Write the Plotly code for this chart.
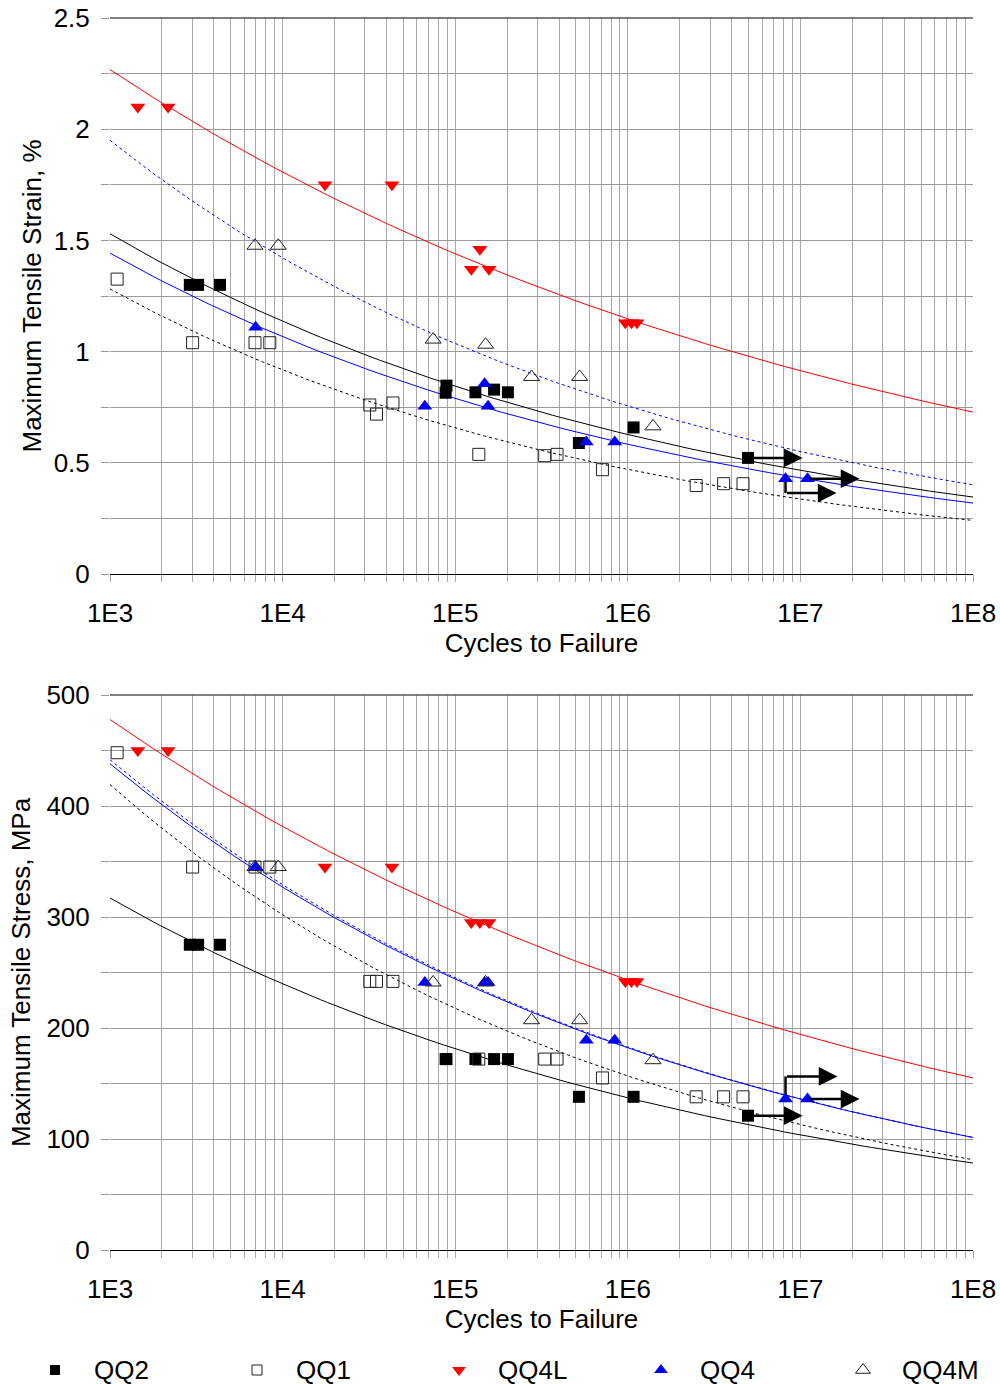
import numpy as np
import plotly.graph_objects as go

# ---------------- data ----------------
# QQ2 (filled black squares)
qq2_n = [2900, 3240, 4340, 89000, 88000, 131000, 168000, 202000, 521000, 1080000, 4970000]
qq2_strain = [1.30, 1.30, 1.30, 0.847, 0.815, 0.817, 0.829, 0.817, 0.589, 0.659, 0.522]
qq2_stress = [275, 275, 275, 172, 172, 172, 172, 172, 138, 138, 121]

# QQ1 (open squares)
qq1_n = [1100, 3010, 6920, 8430, 32000, 35000, 43600, 137000, 330000, 389000, 713000, 2490000, 3590000, 4650000]
qq1_strain = [1.326, 1.04, 1.04, 1.04, 0.76, 0.719, 0.769, 0.538, 0.532, 0.538, 0.469, 0.398, 0.406, 0.406]
qq1_stress = [448, 345, 345, 345, 242, 242, 242, 172, 172, 172, 155, 138, 138, 138]

# QQ4L (red down triangles)
qq4l_n = [1450, 2170, 17600, 43000, 124000, 139000, 157000, 968000, 1050000, 1130000]
qq4l_strain = [2.10, 2.10, 1.75, 1.75, 1.37, 1.46, 1.37, 1.13, 1.13, 1.13]
qq4l_stress = [450, 450, 345, 345, 295, 295, 295, 242, 242, 242]

# QQ4 (blue up triangles)
qq4_n = [6980, 66700, 148000, 155000, 575000, 840000, 8200000, 11000000]
qq4_strain = [1.11, 0.754, 0.856, 0.754, 0.594, 0.594, 0.4285, 0.4285]
qq4_stress = [345, 241, 241, 241, 189, 189, 136, 136]

# QQ4M (open triangles)
qq4m_n = [6920, 9440, 74500, 150000, 277000, 526000, 1400000]
qq4m_strain = [1.476, 1.476, 1.054, 1.031, 0.886, 0.886, 0.664]
qq4m_stress = [345, 345, 241, 241, 207, 207, 171]

# power-law trendlines  y = A * N^B   (order: QQ2, QQ1, QQ4L, QQ4, QQ4M)
fit_names = ["QQ2", "QQ1", "QQ4L", "QQ4", "QQ4M"]
strain_fit_A = [3.732, 3.495, 4.485, 3.569, 5.034]
strain_fit_B = [-0.1291, -0.1452, -0.0987, -0.1311, -0.1373]
stress_fit_A = [733.5, 1121.2, 939.1, 1054.0, 1067.9]
stress_fit_B = [-0.1214, -0.1424, -0.0978, -0.1271, -0.1278]

# run-out arrows: (start N, start y, elbow y, end N)
strain_runouts = [(4970000, 0.522, 0.522, 10300000),
                  (8200000, 0.4285, 0.364, 16200000),
                  (11000000, 0.4285, 0.4285, 22000000)]
stress_runouts = [(4970000, 121, 121, 10300000),
                  (8200000, 136, 156.4, 16400000),
                  (11000000, 136, 136, 22000000)]

# axis ticks
x_tickvals = [m * 10 ** k for k in range(3, 8) for m in range(1, 10)] + [1e8]
x_ticktext = [("1E%d" % round(np.log10(v))) if abs(np.log10(v) - round(np.log10(v))) < 1e-9 else "" for v in x_tickvals]
strain_tickvals = [0, 0.25, 0.5, 0.75, 1, 1.25, 1.5, 1.75, 2, 2.25, 2.5]
strain_ticktext = ["0", "", "0.5", "", "1", "", "1.5", "", "2", "", "2.5"]
stress_tickvals = list(range(0, 501, 50))
stress_ticktext = [str(v) if v % 100 == 0 else "" for v in stress_tickvals]

legend_names = ["QQ2", "QQ1", "QQ4L", "QQ4", "QQ4M"]

# ---------------- styles ----------------
FONT = "Liberation Sans, Arial, sans-serif"
styles = {
    "QQ2": dict(symbol="square", size=12, color="black", line=dict(width=0, color="black")),
    "QQ1": dict(symbol="square-open", size=12, color="#222222", line=dict(width=1, color="#222222")),
    "QQ4L": dict(symbol="triangle-down", size=13, color="#ff0000", line=dict(width=0, color="#ff0000")),
    "QQ4": dict(symbol="triangle-up", size=13, color="#0000ff", line=dict(width=0, color="#0000ff")),
    "QQ4M": dict(symbol="triangle-up-open", size=14, color="#222222", line=dict(width=1, color="#222222")),
}
legend_sizes = {"QQ2": 10, "QQ1": 10, "QQ4L": 12, "QQ4": 12, "QQ4M": 13}
fit_styles = {
    "QQ2": dict(color="black", width=1, dash="solid"),
    "QQ1": dict(color="black", width=1, dash="3px,3px"),
    "QQ4L": dict(color="#ff0000", width=1, dash="solid"),
    "QQ4": dict(color="#0000ff", width=1, dash="solid"),
    "QQ4M": dict(color="#0000ff", width=1, dash="3px,3px"),
}

# layout geometry (pixels); plot area spans the whole page, axes placed by domain
W, H = 1000, 1384
R = 27
PW = W - R
PLOT_L = 110
top_px = (18, 574)
bot_px = (695, 1250)
leg_px = (1350, 1384)
LEG_Y = 1370
LEG_X0, LEG_DX, LEG_TEXT_GAP = 55, 202, 37

def ydom(px):
    return [(H - px[1]) / H, (H - px[0]) / H]

fig = go.Figure()

n_curve = np.logspace(3, 8, 120)

# trendlines
for name, A, B_ in zip(fit_names, strain_fit_A, strain_fit_B):
    fig.add_trace(go.Scatter(x=n_curve, y=A * n_curve ** B_, mode="lines", line=fit_styles[name],
                             showlegend=False, hoverinfo="skip", xaxis="x", yaxis="y"))
for name, A, B_ in zip(fit_names, stress_fit_A, stress_fit_B):
    fig.add_trace(go.Scatter(x=n_curve, y=A * n_curve ** B_, mode="lines", line=fit_styles[name],
                             showlegend=False, hoverinfo="skip", xaxis="x2", yaxis="y2"))

# runout elbow segments
for runs, xa, ya in [(strain_runouts, "x", "y"), (stress_runouts, "x2", "y2")]:
    for n0, y0, y1, n1 in runs:
        if y0 != y1:
            fig.add_trace(go.Scatter(x=[n0, n0], y=[y0, y1], mode="lines",
                                     line=dict(color="black", width=2.5),
                                     showlegend=False, hoverinfo="skip", xaxis=xa, yaxis=ya))

series = [
    ("QQ2", qq2_n, qq2_strain, qq2_stress),
    ("QQ1", qq1_n, qq1_strain, qq1_stress),
    ("QQ4L", qq4l_n, qq4l_strain, qq4l_stress),
    ("QQ4", qq4_n, qq4_strain, qq4_stress),
    ("QQ4M", qq4m_n, qq4m_strain, qq4m_stress),
]
for name, n, s1, s2 in series:
    fig.add_trace(go.Scatter(x=n, y=s1, mode="markers", marker=styles[name], name=name,
                             showlegend=False, xaxis="x", yaxis="y"))
    fig.add_trace(go.Scatter(x=n, y=s2, mode="markers", marker=styles[name], name=name,
                             showlegend=False, xaxis="x2", yaxis="y2"))

# legend strip (keys and labels on a hidden pixel-coordinate axis pair)
annotations = []
for i, name in enumerate(legend_names):
    st = dict(styles[name])
    st["size"] = legend_sizes[name]
    xk = LEG_X0 + i * LEG_DX
    fig.add_trace(go.Scatter(x=[xk], y=[LEG_Y], mode="markers", marker=st,
                             showlegend=False, hoverinfo="skip", cliponaxis=False,
                             xaxis="x3", yaxis="y3"))
    annotations.append(dict(x=xk + LEG_TEXT_GAP, y=LEG_Y, xref="x3", yref="y3",
                            text=name, showarrow=False, xanchor="left", yanchor="middle",
                            font=dict(family=FONT, size=26, color="black")))

# arrows
for runs, xa, ya in [(strain_runouts, "x", "y"), (stress_runouts, "x2", "y2")]:
    for n0, y0, y1, n1 in runs:
        annotations.append(dict(x=np.log10(n1), y=y1, ax=np.log10(n0), ay=y1,
                                xref=xa, yref=ya, axref=xa, ayref=ya, text="",
                                showarrow=True, arrowhead=2, arrowsize=1.5, arrowwidth=2.5,
                                arrowcolor="black", standoff=0, startstandoff=0))

xdom = [PLOT_L / PW, 1.0]

xcommon = dict(type="log", range=[3, 8], tickvals=x_tickvals, ticktext=x_ticktext,
               showgrid=True, gridcolor="#a8a8a8", gridwidth=1,
               ticks="outside", ticklen=7, tickcolor="#a8a8a8", tickwidth=1,
               showline=True, linecolor="black", linewidth=1, mirror=False,
               zeroline=False, automargin=False,
               tickfont=dict(family=FONT, size=26, color="black"),
               ticklabelstandoff=9,
               title=dict(text="Cycles to Failure", font=dict(family=FONT, size=26, color="black"),
                          standoff=6))
ycommon = dict(showgrid=True, gridcolor="#9a9a9a", gridwidth=1,
               ticks="outside", ticklen=8, tickcolor="#9a9a9a", tickwidth=1,
               showline=False, zeroline=False, automargin=False,
               tickfont=dict(family=FONT, size=26, color="black"),
               ticklabelstandoff=6)

fig.update_layout(
    width=W, height=H,
    margin=dict(l=0, r=R, t=0, b=0, pad=0, autoexpand=False),
    paper_bgcolor="white", plot_bgcolor="white",
    font=dict(family=FONT, size=26, color="black"),
    xaxis=dict(**xcommon, domain=xdom, anchor="y"),
    yaxis=dict(**ycommon, domain=ydom(top_px), anchor="x", range=[0, 2.5],
               tickvals=strain_tickvals, ticktext=strain_ticktext,
               title=dict(text="Maximum Tensile Strain, %", font=dict(family=FONT, size=26, color="black"),
                          standoff=4)),
    xaxis2=dict(**xcommon, domain=xdom, anchor="y2"),
    yaxis2=dict(**ycommon, domain=ydom(bot_px), anchor="x2", range=[0, 500],
                tickvals=stress_tickvals, ticktext=stress_ticktext,
                title=dict(text="Maximum Tensile Stress, MPa", font=dict(family=FONT, size=26, color="black"),
                           standoff=8)),
    xaxis3=dict(domain=[0, 1], range=[0, PW], visible=False, showgrid=False, zeroline=False,
                anchor="y3", fixedrange=True),
    yaxis3=dict(domain=ydom(leg_px), range=[leg_px[1], leg_px[0]], visible=False, showgrid=False,
                zeroline=False, anchor="x3", fixedrange=True),
    annotations=annotations,
    shapes=[
        dict(type="line", xref="x domain", yref="y domain", x0=0, x1=1, y0=1, y1=1,
             line=dict(color="#555555", width=1.5)),
        dict(type="line", xref="x2 domain", yref="y2 domain", x0=0, x1=1, y0=1, y1=1,
             line=dict(color="#555555", width=1.5)),
    ],
    showlegend=False,
)

fig.write_html("out.html")
